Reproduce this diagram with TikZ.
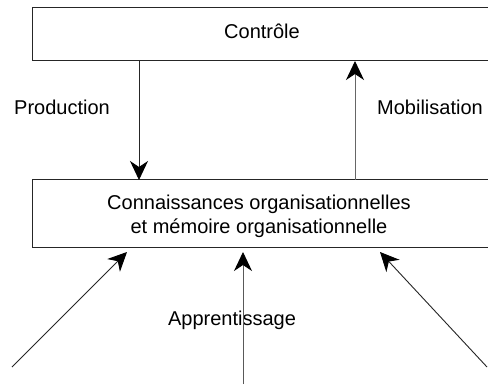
\documentclass[tikz,border=0pt]{standalone}
\usepackage{fontspec}
\setmainfont{Liberation Sans}
\usetikzlibrary{arrows.meta}
\begin{document}
\begin{tikzpicture}[x=1pt,y=-1pt,
  box/.style={draw=black!85, line width=1pt},
  lbl/.style={font=\fontsize{20}{24}\selectfont, inner sep=0pt, align=center},
  arr/.style={line width=0.9pt, draw=black!85, -{Stealth[length=19pt,width=18pt,inset=6pt,color=black]}}]
\useasboundingbox (0,0) rectangle (488,385);
\fill[white] (0,0) rectangle (488,385);
\draw[box] (495,8) -- (32,8) -- (32,61) -- (495,61);
\draw[box] (495,180) -- (32,180) -- (32,248) -- (495,248);
\node[lbl] (ctrl) at (262,31) {Contrôle};
\node[lbl] (conn) at (259,216) {Connaissances organisationnelles\\et mémoire organisationnelle};
\node[lbl] (prod) at (62,107) {Production};
\node[lbl] (mob) at (430,107) {Mobilisation};
\node[lbl] (app) at (232,320) {Apprentissage};
\coordinate (p1) at (139,61);
\coordinate (p2) at (139,180);
\coordinate (m1) at (355,180);
\coordinate (m2) at (355,61);
\coordinate (l1) at (12,367);
\coordinate (l2) at (127,252);
\coordinate (c1) at (243,384);
\coordinate (c2) at (243,252);
\coordinate (r1) at (487,367);
\coordinate (r2) at (380,252);
\draw[arr] (p1) -- (p2);
\draw[arr, draw=black!60] (m1) -- (m2);
\draw[arr] (l1) -- (l2);
\draw[arr, draw=black!65] (c1) -- (c2);
\draw[arr] (r1) -- (r2);
\end{tikzpicture}
\end{document}
